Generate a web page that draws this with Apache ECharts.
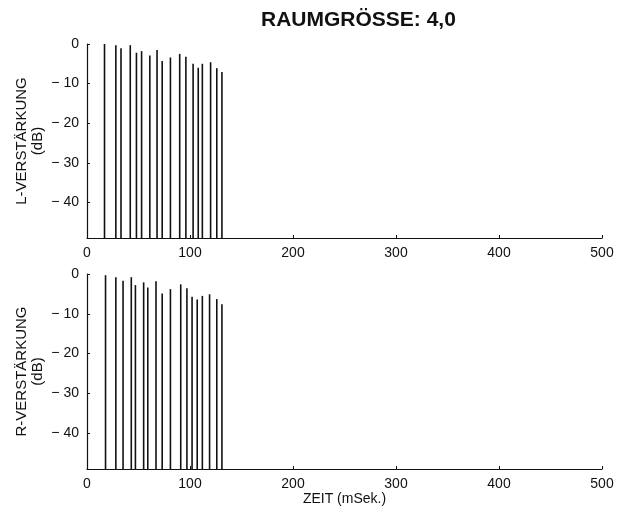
<!DOCTYPE html>
<html>
<head>
<meta charset="utf-8">
<script src="https://cdn.jsdelivr.net/npm/echarts@6/dist/echarts.min.js"></script>
<style>
  html, body { margin: 0; padding: 0; background: #fff; }
  #chart { width: 628px; height: 516px; }
</style>
</head>
<body>
<div id="chart"></div>
<script>
// reflection arrival times (ms) and gains (dB)
const leftTimes = [17, 28, 33, 42, 48, 53, 61, 68, 73, 81, 90, 96, 103, 108, 112, 120, 126, 131]
const leftGain = [0, -0.3, -1.1, -0.3, -2.2, -1.8, -2.9, -1.5, -4.3, -3.4, -2.5, -3.2, -5.0, -6.0, -5.0, -4.6, -6.1, -7.1]
const rightTimes = [18, 28, 35, 43, 47, 55, 59, 67, 73, 81, 91, 97, 102, 107, 112, 119, 126, 131]
const rightGain = [-0.3, -0.8, -1.7, -0.8, -2.8, -2.1, -3.4, -1.8, -4.9, -3.8, -2.6, -3.6, -5.7, -6.4, -5.5, -5.1, -6.3, -7.6]
const yTicks = [0, -10, -20, -30, -40]
const xTicks = [0, 100, 200, 300, 400, 500]

const yMin = -49
const font = 'Liberation Sans, Arial, sans-serif'
const ink = '#111'

function pairs (xs, ys) {
  return xs.map((x, i) => [x, ys[i]])
}

function impulse (params, api) {
  const top = api.coord([api.value(0), api.value(1)])
  const bot = api.coord([api.value(0), yMin])
  return {
    type: 'line',
    shape: { x1: top[0], y1: top[1], x2: bot[0], y2: bot[1] },
    style: { stroke: ink, lineWidth: 1.6 }
  }
}

function xAxis (idx, name) {
  return {
    type: 'value',
    gridIndex: idx,
    min: 0,
    max: 500,
    interval: 100,
    name: name,
    nameLocation: 'middle',
    nameGap: 20,
    nameTextStyle: { color: ink, fontFamily: font, fontSize: 14 },
    splitLine: { show: false },
    axisLine: { onZero: false, lineStyle: { color: ink, width: 1.2 } },
    axisTick: { inside: true, length: 3, lineStyle: { color: ink } },
    axisLabel: { color: ink, fontFamily: font, fontSize: 14, margin: 8, customValues: xTicks }
  }
}

function yAxis (idx, name) {
  return {
    type: 'value',
    gridIndex: idx,
    min: yMin,
    max: 0,
    name: name,
    nameLocation: 'middle',
    nameRotate: 90,
    nameGap: 41,
    nameMoveOverlap: false,
    nameTextStyle: { color: ink, fontFamily: font, fontSize: 15, lineHeight: 16 },
    splitLine: { show: false },
    axisLine: { show: true, onZero: false, lineStyle: { color: ink, width: 1.2 } },
    axisTick: { show: true, inside: true, length: 3, lineStyle: { color: ink }, customValues: yTicks },
    axisLabel: {
      color: ink,
      fontFamily: font,
      fontSize: 14,
      margin: 8,
      customValues: yTicks,
      formatter: v => (v === 0 ? '0' : '\u2212 ' + Math.abs(v))
    }
  }
}

const myChart = echarts.init(document.getElementById('chart'))
const option = {
  backgroundColor: '#fff',
  animation: false,
  title: {
    text: 'RAUMGRÖSSE: 4,0',
    left: 256,
    top: 5,
    textStyle: { color: ink, fontFamily: font, fontSize: 21, fontWeight: 'bold' }
  },
  grid: [
    { left: 87, right: 26, top: 44, height: 194 },
    { left: 87, right: 26, top: 274, height: 195 }
  ],
  xAxis: [xAxis(0, ''), xAxis(1, 'ZEIT (mSek.)')],
  yAxis: [yAxis(0, 'L-VERSTÄRKUNG\n(dB)'), yAxis(1, 'R-VERSTÄRKUNG\n(dB)')],
  series: [
    {
      name: 'L',
      type: 'custom',
      xAxisIndex: 0,
      yAxisIndex: 0,
      renderItem: impulse,
      data: pairs(leftTimes, leftGain)
    },
    {
      name: 'R',
      type: 'custom',
      xAxisIndex: 1,
      yAxisIndex: 1,
      renderItem: impulse,
      data: pairs(rightTimes, rightGain)
    }
  ]
}
option && myChart.setOption(option)
</script>
</body>
</html>
